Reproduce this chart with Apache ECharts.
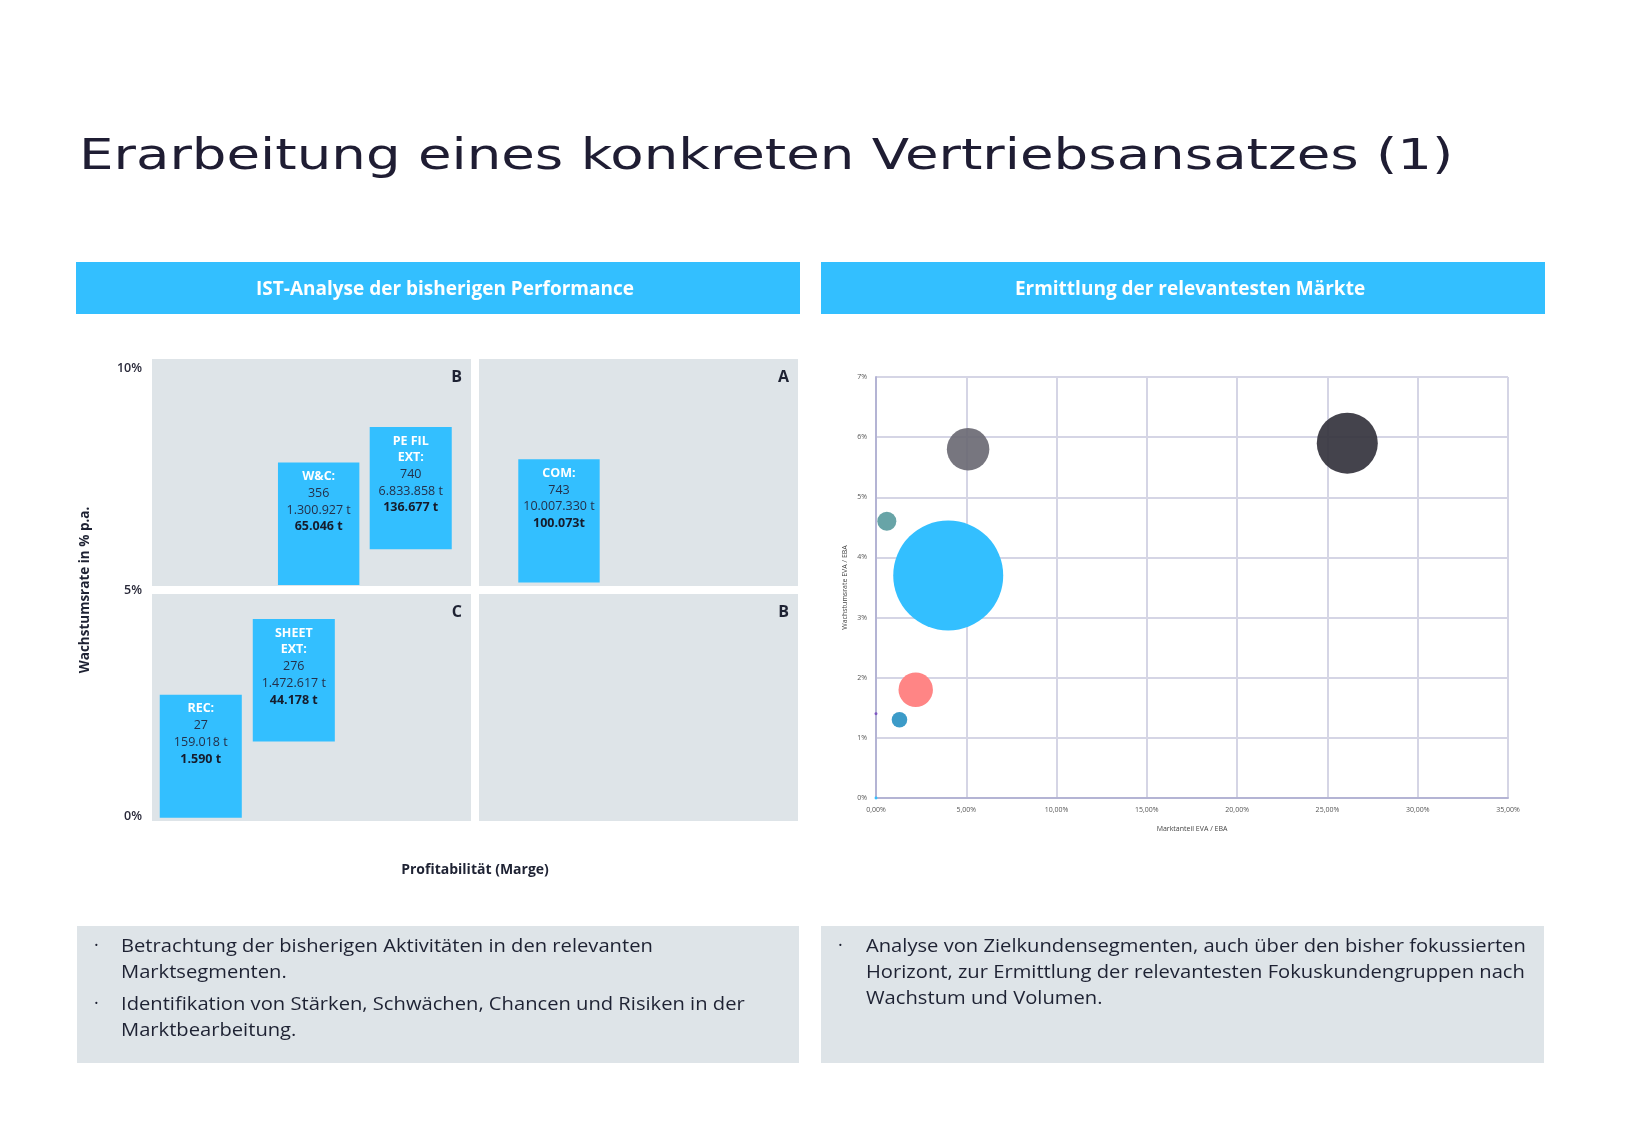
<!DOCTYPE html>
<html><head><meta charset="utf-8">
<script src="https://cdn.jsdelivr.net/npm/echarts@6/dist/echarts.min.js"></script>
<style>html,body{margin:0;padding:0;background:#fff}#c{width:1627px;height:1127px}</style>
</head><body><div id="c"></div>
<script>
// ---------- Left chart: IST-Analyse (quadrants) ----------
const leftYTicks = [0, 5, 10];
const quadrantLetters = ['B', 'A', 'C', 'B'];
const quadrantX0 = [0, 50, 0, 50];
const quadrantX1 = [50, 100, 50, 100];
const quadrantY0 = [5, 5, 0, 0];
const quadrantY1 = [10, 10, 5, 5];

const segNames = ['W&C:', 'PE FIL\nEXT:', 'COM:', 'SHEET\nEXT:', 'REC:'];
const segCounts = ['356', '740', '743', '276', '27'];
const segVolumes = ['1.300.927 t', '6.833.858 t', '10.007.330 t', '1.472.617 t', '159.018 t'];
const segShares = ['65.046 t', '136.677 t', '100.073t', '44.178 t', '1.590 t'];
const segMargeFrom = [19.5, 33.7, 56.7, 15.6, 1.2];
const segMargeTo = [32.1, 46.4, 69.3, 28.3, 13.9];
const segGrowthFrom = [5.11, 5.88, 5.16, 1.72, 0.07];
const segGrowthTo = [7.76, 8.53, 7.83, 4.37, 2.73];

// ---------- Right chart: bubble chart ----------
const xTicksRight = [0, 5, 10, 15, 20, 25, 30, 35];
const yTicksRight = [0, 1, 2, 3, 4, 5, 6, 7];
const marketShare = [26.1, 5.1, 0.6, 4.0, 2.2, 1.3, 0.0, 0.0];
const marketGrowth = [5.9, 5.8, 4.6, 3.7, 1.8, 1.3, 1.4, 0.0];
const marketVolume = [30.8, 14.9, 3.0, 100, 9.8, 2.0, 0.07, 0.07];

// ---------- styles ----------
const bubbleColors = ['rgba(52,51,61,0.92)', 'rgba(104,103,113,0.9)', '#68A4A7', '#33BFFF', '#FF8585', '#3C9BC8', '#7E57C2', '#33BFFF'];
const BLUE = '#33BFFF', PANEL = '#DEE4E8', INK = '#1E2233';
const FONT = '"Open Sans", "Noto Sans", sans-serif';
const MAX_BUBBLE = 110;

const quadData = quadrantX0.map((x, i) => [x, quadrantX1[i], quadrantY0[i], quadrantY1[i]]);
const segData = segNames.map((n, i) => [segMargeFrom[i], segMargeTo[i], segGrowthFrom[i], segGrowthTo[i]]);
const bubbleData = marketShare.map((x, i) => ({
  value: [x, marketGrowth[i], marketVolume[i]],
  itemStyle: { color: bubbleColors[i], opacity: 1 }
}));

const chart = echarts.init(document.getElementById('c'), null, { renderer: 'canvas' });

const bodyText = (x, y, text) => ({
  type: 'text', x: x, y: y, scaleX: 1.12,
  style: { text: text, x: 0, y: 0, verticalAlign: 'top', lineHeight: 26, fontFamily: FONT, fontSize: 18, fill: INK }
});
const bullet = (x, y) => ({ type: 'text', x: x, y: y, style: { text: '·', verticalAlign: 'middle', fontFamily: FONT, fontSize: 18, fill: INK } });

const option = {
  backgroundColor: '#ffffff',
  animation: false,
  grid: [
    { left: 152, top: 359, width: 646, height: 462 },
    { left: 876, top: 377, width: 632, height: 421 }
  ],
  xAxis: [
    {
      gridIndex: 0, type: 'value', min: 0, max: 100,
      axisLine: { show: false }, axisTick: { show: false }, axisLabel: { show: false }, splitLine: { show: false },
      name: 'Profitabilität (Marge)', nameLocation: 'middle', nameGap: 42,
      nameTextStyle: { fontFamily: FONT, fontWeight: 'bold', fontSize: 14, color: INK }
    },
    {
      gridIndex: 1, type: 'value', min: 0, max: 35, interval: 5,
      axisLine: { show: true, lineStyle: { color: '#B4B4D4', width: 2 } },
      axisTick: { show: false },
      splitLine: { show: true, lineStyle: { color: '#D5D5E5', width: 2 } },
      axisLabel: { fontFamily: FONT, fontSize: 7, color: '#555', margin: 8,
        formatter: v => v.toFixed(2).replace('.', ',') + '%' },
      name: 'Marktanteil EVA / EBA', nameLocation: 'middle', nameGap: 27,
      nameTextStyle: { fontFamily: FONT, fontSize: 7, color: '#444' }
    }
  ],
  yAxis: [
    {
      gridIndex: 0, type: 'value', min: 0, max: 10, interval: 5,
      axisLine: { show: false }, axisTick: { show: false }, splitLine: { show: false },
      axisLabel: { fontFamily: FONT, fontSize: 12.5, fontWeight: 600, color: '#2A2A3A', margin: 10,
        formatter: v => v === 10 ? '{t|' + v + '%}' : (v === 0 ? '{b|' + v + '%}' : v + '%'),
        rich: {
          t: { fontFamily: FONT, fontSize: 12.5, fontWeight: 600, color: '#2A2A3A', lineHeight: 19 },
          b: { fontFamily: FONT, fontSize: 12.5, fontWeight: 600, color: '#2A2A3A', lineHeight: 9 }
        },
        verticalAlignMinLabel: 'bottom', verticalAlignMaxLabel: 'top' },
      name: 'Wachstumsrate in % p.a.', nameLocation: 'middle', nameGap: 60, nameRotate: 90,
      nameTextStyle: { fontFamily: FONT, fontWeight: 'bold', fontSize: 13.5, color: INK }
    },
    {
      gridIndex: 1, type: 'value', min: 0, max: 7, interval: 1,
      axisLine: { show: true, lineStyle: { color: '#B4B4D4', width: 2 } },
      axisTick: { show: false },
      splitLine: { show: true, lineStyle: { color: '#D5D5E5', width: 2 } },
      axisLabel: { fontFamily: FONT, fontSize: 7, color: '#555', margin: 9, formatter: '{value}%' },
      name: 'Wachstumsrate EVA / EBA', nameLocation: 'middle', nameGap: 28, nameRotate: 90,
      nameTextStyle: { fontFamily: FONT, fontSize: 7, color: '#444' }
    }
  ],
  series: [
    {
      type: 'custom', xAxisIndex: 0, yAxisIndex: 0, data: quadData, z: 1,
      renderItem: (params, api) => {
        const x0 = api.value(0), x1 = api.value(1), y0 = api.value(2), y1 = api.value(3);
        const tl = api.coord([x0, y1]), br = api.coord([x1, y0]);
        const g = 4;
        const l = tl[0] + (x0 > 0 ? g : 0), r = br[0] - (x1 < 100 ? g : 0);
        const t = tl[1] + (y1 < 10 ? g : 0), b = br[1] - (y0 > 0 ? g : 0);
        return { type: 'group', children: [
          { type: 'rect', shape: { x: l, y: t, width: r - l, height: b - t }, style: { fill: PANEL } },
          { type: 'text', style: { text: quadrantLetters[params.dataIndex], x: r - 9, y: t + 18,
            align: 'right', verticalAlign: 'middle', fontFamily: FONT, fontWeight: 'bold', fontSize: 16, fill: INK } }
        ] };
      }
    },
    {
      type: 'custom', xAxisIndex: 0, yAxisIndex: 0, data: segData, z: 2,
      renderItem: (params, api) => {
        const i = params.dataIndex;
        const tl = api.coord([api.value(0), api.value(3)]);
        const br = api.coord([api.value(1), api.value(2)]);
        const nameLines = segNames[i].split('\n').map(s => '{n|' + s + '}');
        const txt = nameLines.concat(['{v|' + segCounts[i] + '}', '{v|' + segVolumes[i] + '}', '{b|' + segShares[i] + '}']).join('\n');
        const base = { fontFamily: FONT, fontSize: 12.5, lineHeight: 16.7, align: 'center' };
        return { type: 'group', children: [
          { type: 'rect', shape: { x: tl[0], y: tl[1], width: br[0] - tl[0], height: br[1] - tl[1] }, style: { fill: BLUE } },
          { type: 'text', style: { text: txt, x: (tl[0] + br[0]) / 2, y: tl[1] + 5.7, align: 'center', verticalAlign: 'top',
            rich: {
              n: Object.assign({}, base, { fontWeight: 'bold', fill: '#ffffff' }),
              v: Object.assign({}, base, { fill: '#24304A' }),
              b: Object.assign({}, base, { fontWeight: 'bold', fill: '#161C2C' })
            } } }
        ] };
      }
    },
    {
      type: 'scatter', xAxisIndex: 1, yAxisIndex: 1, data: bubbleData, z: 3,
      itemStyle: { opacity: 1 },
      symbolSize: v => MAX_BUBBLE * Math.sqrt(v[2] / 100)
    }
  ],
  graphic: [
    { type: 'text', x: 79, y: 137, scaleX: 1.3, style: { text: 'Erarbeitung eines konkreten Vertriebsansatzes (1)',
      x: 0, y: 0, verticalAlign: 'top', fontFamily: '"DejaVu Sans", sans-serif', fontSize: 42, fill: '#1F1D33' } },
    { type: 'rect', shape: { x: 76, y: 262, width: 724, height: 52 }, style: { fill: BLUE } },
    { type: 'rect', shape: { x: 821, y: 262, width: 724, height: 52 }, style: { fill: BLUE } },
    { type: 'text', x: 445, y: 290, style: { text: 'IST-Analyse der bisherigen Performance', align: 'center', verticalAlign: 'middle',
      fontFamily: FONT, fontWeight: 'bold', fontSize: 19, fill: '#ffffff' } },
    { type: 'text', x: 1190, y: 290, style: { text: 'Ermittlung der relevantesten Märkte', align: 'center', verticalAlign: 'middle',
      fontFamily: FONT, fontWeight: 'bold', fontSize: 19, fill: '#ffffff' } },
    { type: 'rect', shape: { x: 77, y: 926, width: 722, height: 137 }, style: { fill: PANEL } },
    { type: 'rect', shape: { x: 821, y: 926, width: 723, height: 137 }, style: { fill: PANEL } },
    bullet(94, 946),
    bodyText(121, 934, 'Betrachtung der bisherigen Aktivitäten in den relevanten\nMarktsegmenten.'),
    bullet(94, 1004),
    bodyText(121, 992, 'Identifikation von Stärken, Schwächen, Chancen und Risiken in der\nMarktbearbeitung.'),
    bullet(838, 946),
    bodyText(866, 934, 'Analyse von Zielkundensegmenten, auch über den bisher fokussierten\nHorizont, zur Ermittlung der relevantesten Fokuskundengruppen nach\nWachstum und Volumen.')
  ]
};
chart.setOption(option);
</script>
</body></html>
